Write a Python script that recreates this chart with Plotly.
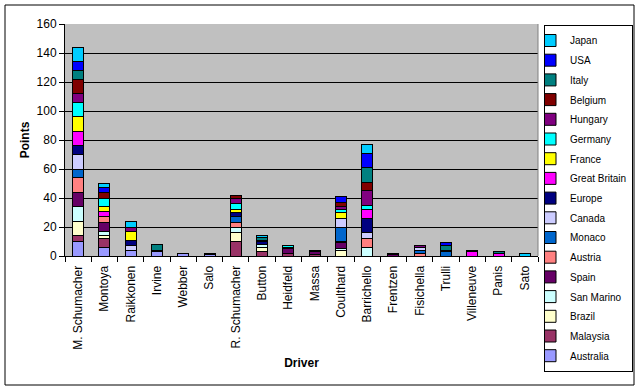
import plotly.graph_objects as go

drivers = ["M. Schumacher", "Montoya", "Raikkonen", "Irvine", "Webber", "Salo",
           "R. Schumacher", "Button", "Heidfeld", "Massa", "Coulthard", "Barrichello",
           "Frentzen", "Fisichella", "Trulli", "Villeneuve", "Panis", "Sato"]

races = ["Australia", "Malaysia", "Brazil", "San Marino", "Spain", "Austria", "Monaco",
         "Canada", "Europe", "Great Britain", "France", "Germany", "Hungary", "Belgium",
         "Italy", "USA", "Japan"]

# points per driver (same order as drivers) for each race
australia     = [10, 6, 4, 3, 2, 1, 0, 0, 0, 0, 0, 0, 0, 0, 0, 0, 0, 0]
malaysia      = [4, 6, 0, 0, 0, 0, 10, 3, 2, 1, 0, 0, 0, 0, 0, 0, 0, 0]
brazil        = [10, 2, 0, 0, 0, 1, 6, 3, 0, 0, 4, 0, 0, 0, 0, 0, 0, 0]
san_marino    = [10, 3, 0, 0, 0, 0, 4, 2, 0, 0, 1, 6, 0, 0, 0, 0, 0, 0]
spain         = [10, 6, 0, 0, 0, 0, 0, 0, 3, 2, 4, 0, 1, 0, 0, 0, 0, 0]
austria       = [10, 4, 0, 0, 0, 0, 3, 0, 0, 0, 1, 6, 0, 2, 0, 0, 0, 0]
monaco        = [6, 0, 0, 0, 0, 0, 4, 0, 0, 0, 10, 0, 1, 2, 3, 0, 0, 0]
canada        = [10, 0, 3, 0, 0, 0, 0, 0, 0, 0, 6, 4, 0, 2, 1, 0, 0, 0]
europe        = [6, 0, 4, 0, 0, 0, 3, 2, 0, 1, 0, 10, 0, 0, 0, 0, 0, 0]
great_britain = [10, 4, 0, 0, 0, 0, 0, 0, 1, 0, 0, 6, 0, 0, 0, 3, 2, 0]
france        = [10, 3, 6, 0, 0, 0, 2, 1, 0, 0, 4, 0, 0, 0, 0, 0, 0, 0]
germany       = [10, 6, 0, 0, 0, 0, 4, 0, 1, 0, 2, 3, 0, 0, 0, 0, 0, 0]
hungary       = [6, 0, 3, 0, 0, 0, 4, 0, 0, 0, 2, 10, 0, 1, 0, 0, 0, 0]
belgium       = [10, 4, 0, 1, 0, 0, 2, 0, 0, 0, 3, 6, 0, 0, 0, 0, 0, 0]
italy         = [6, 0, 0, 4, 0, 0, 0, 2, 0, 0, 0, 10, 0, 0, 3, 0, 1, 0]
usa           = [6, 3, 0, 0, 0, 0, 0, 0, 0, 0, 4, 10, 0, 0, 2, 1, 0, 0]
japan         = [10, 3, 4, 0, 0, 0, 0, 1, 0, 0, 0, 6, 0, 0, 0, 0, 0, 2]

race_points = [australia, malaysia, brazil, san_marino, spain, austria, monaco, canada,
               europe, great_britain, france, germany, hungary, belgium, italy, usa, japan]

colors = ["#9999FF", "#993366", "#FFFFCC", "#CCFFFF", "#660066", "#FF8080", "#0066CC",
          "#CCCCFF", "#000080", "#FF00FF", "#FFFF00", "#00FFFF", "#800080", "#800000",
          "#008080", "#0000FF", "#00CCFF"]

y_ticks = [0, 20, 40, 60, 80, 100, 120, 140, 160]

FONT = "Liberation Sans, Arial, sans-serif"

fig = go.Figure()
n = len(races)
for i, (name, pts, col) in enumerate(zip(races, race_points, colors)):
    fig.add_trace(go.Bar(
        x=drivers,
        y=[p if p else None for p in pts],
        name=name,
        legendgroup=name,
        legendrank=1000 + (n - i),
        marker=dict(color=col, line=dict(color="black", width=1)),
    ))

W, H = 640, 390
# paper (outer chart border) edges in pixels
PL, PR, PT, PB = 5, 634, 5, 385
# plot area edges in pixels
L, R, T, B = 65, 538, 24, 256
pw, ph = PR - PL, PB - PT

def px(xp):
    return (xp - PL) / pw

def py(yp):
    return (PB - yp) / ph

fig.update_layout(
    width=W, height=H,
    barmode="stack",
    bargap=0.58,
    margin=dict(l=PL, r=W - PR, t=PT, b=H - PB, pad=0, autoexpand=False),
    paper_bgcolor="white",
    plot_bgcolor="#C0C0C0",
    font=dict(family=FONT, size=11, color="black"),
    legend=dict(
        x=px(544), y=py(25), xanchor="left", yanchor="top",
        traceorder="grouped",
        bordercolor="black", borderwidth=1,
        font=dict(family=FONT, size=10, color="black"),
        itemwidth=30,
        indentation=-15,
        tracegroupgap=0.7,
    ),
    shapes=[
        dict(type="rect", xref="paper", yref="paper",
             x0=0, x1=1, y0=0, y1=1,
             line=dict(color="black", width=1), fillcolor="rgba(0,0,0,0)", layer="above"),
        dict(type="line", xref="paper", yref="paper",
             x0=px(R), x1=px(R), y0=py(B), y1=py(T),
             line=dict(color="#808080", width=1), layer="above"),
    ],
    xaxis=dict(
        domain=[px(L), px(R)],
        automargin=False,
        showline=True, linecolor="black", linewidth=1,
        ticks="outside", ticklen=5, tickcolor="black", tickson="boundaries",
        tickangle=-90, tickfont=dict(family=FONT, size=12),
        ticklabelstandoff=4,
        title=dict(text="<b>Driver</b>", font=dict(family=FONT, size=12), standoff=9),
        showgrid=False,
    ),
    yaxis=dict(
        domain=[py(B), py(T)],
        automargin=False,
        range=[0, 160], tickvals=y_ticks, ticktext=[str(v) for v in y_ticks],
        showline=True, linecolor="black", linewidth=1,
        ticks="outside", ticklen=5, tickcolor="black",
        showgrid=True, gridcolor="black", gridwidth=1,
        tickfont=dict(family=FONT, size=12),
        title=dict(text="<b>Points</b>", font=dict(family=FONT, size=12), standoff=4),
        zeroline=False,
    ),
)

fig.write_html(
    "out.html",
    config={"displayModeBar": False},
    post_script="document.body.style.margin='0px';document.body.style.overflow='hidden';",
)
